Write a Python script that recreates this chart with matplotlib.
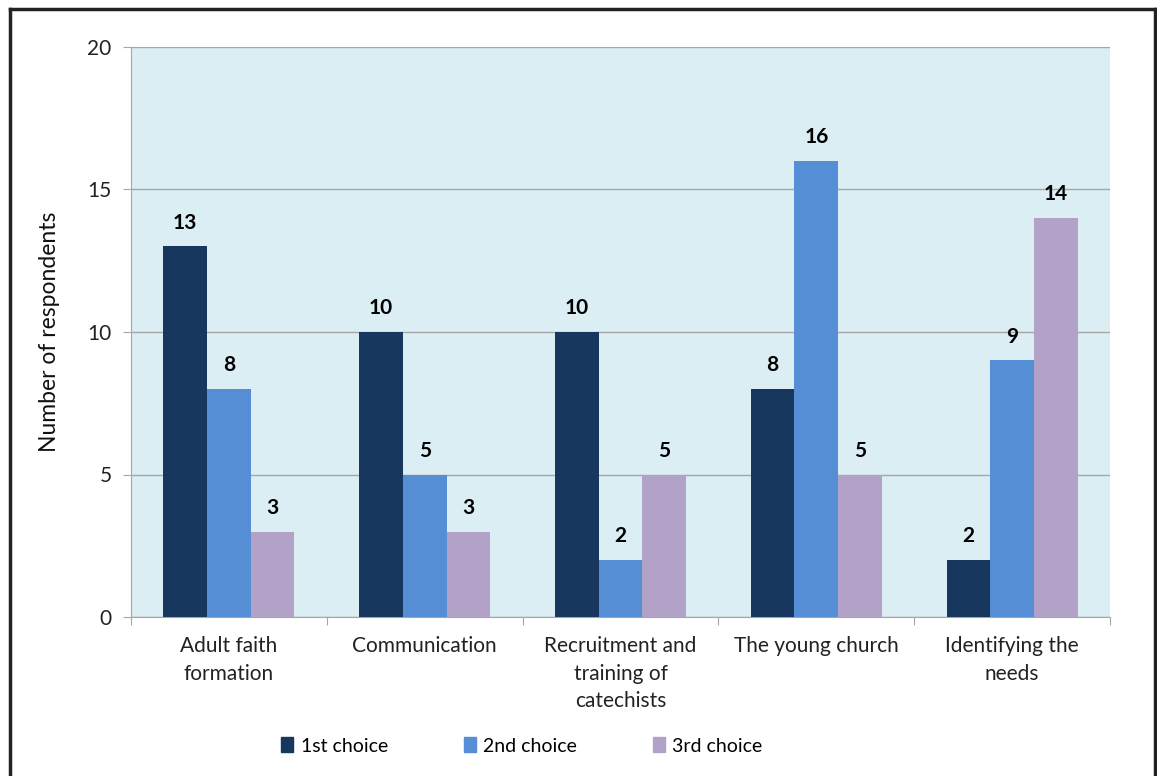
import matplotlib
matplotlib.use("Agg")
import matplotlib.pyplot as plt
import numpy as np
from matplotlib.lines import Line2D
from matplotlib.patches import Patch

categories = ["Adult faith\nformation", "Communication", "Recruitment and\ntraining of\ncatechists",
              "The young church", "Identifying the\nneeds"]
series_names = ["1st choice", "2nd choice", "3rd choice"]
first_choice = [13, 10, 10, 8, 2]
second_choice = [8, 5, 2, 16, 9]
third_choice = [3, 3, 5, 5, 14]
y_ticks = [0, 5, 10, 15, 20]

colors = ["#17375E", "#558ED5", "#B3A2C7"]
plt.rcParams['font.family'] = ['Lato', 'DejaVu Sans']

W, H = 1157, 776
fig = plt.figure(figsize=(W/100, H/100), dpi=100)
ax = fig.add_axes([131/W, 1-617/H, (1110-131)/W, (617-47)/H])
ax.set_facecolor("#DBEEF4")

x = np.arange(len(categories))
bw = 0.223
for i, (vals, c) in enumerate(zip([first_choice, second_choice, third_choice], colors)):
    bars = ax.bar(x + (i-1)*bw, vals, width=bw, color=c, zorder=3, label=series_names[i])
    for b, v in zip(bars, vals):
        ax.annotate(str(v), (b.get_x()+b.get_width()/2, v), xytext=(0, 10), textcoords="offset points",
                    ha="center", va="bottom", fontsize=15, fontweight="bold", color="black")

ax.set_xlim(-0.5, len(categories)-0.5)
ax.set_ylim(0, 20)
ax.set_yticks(y_ticks)
ax.tick_params(axis='y', labelsize=15, length=6, color="#A6A6A6", pad=8, labelcolor="#222222")
ax.yaxis.grid(True, color="#A6A6A6", lw=1, zorder=1)
ax.set_axisbelow(True)
ax.set_xticks(np.arange(-0.5, len(categories)), minor=False)
ax.set_xticklabels([])
ax.set_xticks(x, minor=True)
ax.set_xticklabels(categories, minor=True, fontsize=15, linespacing=1.45, color="#222222")
ax.tick_params(axis='x', which='major', length=6, color="#A6A6A6")
ax.tick_params(axis='x', which='minor', length=0, pad=14)
for s in ["top", "right"]:
    ax.spines[s].set_visible(False)
for s in ["left", "bottom"]:
    ax.spines[s].set_color("#A6A6A6")
ax.set_ylabel("Number of respondents", fontsize=16.5, labelpad=20, color="#111111")

handles = [Patch(color=c) for c in colors]
fig.legend(handles, series_names, loc="center", bbox_to_anchor=(522/W, 1-746/H), ncol=3,
           frameon=False, fontsize=14, handlelength=0.6, handleheight=0.8, columnspacing=3.9,
           handletextpad=0.4)

# figure border
fig.add_artist(Line2D([10/W, 10/W], [0, 1-9/H], transform=fig.transFigure, color="#222222", lw=2.5))
fig.add_artist(Line2D([10/W, 1155/W], [1-9/H, 1-9/H], transform=fig.transFigure, color="#222222", lw=2.5))
fig.add_artist(Line2D([1155/W, 1155/W], [0, 1-9/H], transform=fig.transFigure, color="#222222", lw=2.5))

fig.savefig("out.png", dpi=100)
